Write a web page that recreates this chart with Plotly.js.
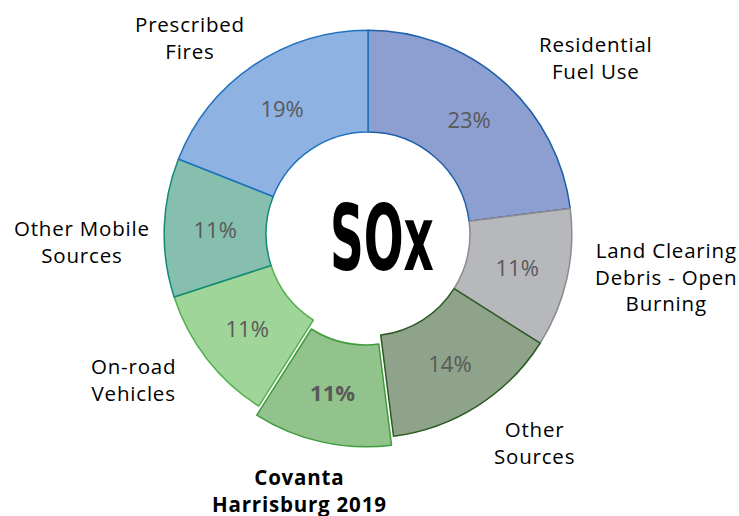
<!DOCTYPE html>
<html>
<head>
<meta charset="utf-8">
<script src="https://cdn.plot.ly/plotly-3.0.1.min.js"></script>
<style>
  html, body { margin: 0; padding: 0; background: #fff; }
  #plot { width: 739px; height: 516px; }
  .annotation-text { letter-spacing: 0.8px; }
</style>
</head>
<body>
<div id="plot"></div>
<script>
// SOx sources, percent share (clockwise from 12 o'clock)
var sources = ["Residential Fuel Use", "Land Clearing Debris - Open Burning", "Other Sources",
               "Covanta Harrisburg 2019", "On-road Vehicles", "Other Mobile Sources", "Prescribed Fires"];
var shares = [23, 11, 14, 11, 11, 11, 19];
var pulls = [0, 0, 0, 0.045, 0, 0, 0];
var labelText = ["Residential<br>Fuel Use", "Land Clearing<br>Debris - Open<br>Burning", "Other<br>Sources",
                 "<b>Covanta<br>Harrisburg 2019</b>", "On-road<br>Vehicles", "Other Mobile<br>Sources", "Prescribed<br>Fires"];

var fills = ["#8d9ed1", "#b7b8bc", "#8fa38b", "#93c38c", "#a0d59a", "#86bfae", "#8eb2e2"];
var edges = ["#1f5fa8", "#8a8b8e", "#2b5a22", "#3f9c3c", "#52b04e", "#138a78", "#1f72c0"];

var texts = shares.map(function (s, i) {
  return sources[i] === "Covanta Harrisburg 2019" ? "<b>" + s + "%</b>" : s + "%";
});

var trace1 = {
  type: "pie",
  labels: sources,
  values: shares,
  text: texts,
  textinfo: "text",
  textposition: "inside",
  insidetextorientation: "horizontal",
  textfont: { family: "Open Sans", size: 22, color: "#595959" },
  hole: 0.5,
  sort: false,
  direction: "clockwise",
  rotation: 0,
  pull: pulls,
  marker: { colors: fills, line: { color: edges, width: 1.5 } },
  domain: { x: [0.2097, 0.7862], y: [0.1337, 0.9593] },
  showlegend: false,
  hoverinfo: "label+value"
};

// outside category labels, placed by hand
var labelPos = [[596, 58], [666, 276], [534, 442], [299, 490], [133, 379], [82, 242], [190, 37]];
var annotations = labelText.map(function (t, i) {
  return {
    text: t, xref: "paper", yref: "paper",
    x: labelPos[i][0] / 739, y: 1 - labelPos[i][1] / 516,
    xanchor: "center", yanchor: "middle", showarrow: false,
    font: { family: "Open Sans", size: 20.5, color: "#000" }
  };
});
annotations.push({
  text: "<b>SOx</b>", xref: "paper", yref: "paper",
  x: 382 / 739, y: 1 - 239 / 516, xanchor: "center", yanchor: "middle", showarrow: false,
  font: { family: "DejaVu Sans", size: 90, color: "#000" }
});

var layout = {
  width: 739, height: 516,
  margin: { l: 0, r: 0, t: 0, b: 0 },
  paper_bgcolor: "#fff",
  annotations: annotations
};

Plotly.newPlot("plot", [trace1], layout, { staticPlot: true }).then(function () {
  // squeeze the centre title into a condensed shape
  document.querySelectorAll(".annotation-text").forEach(function (el) {
    if (el.textContent === "SOx") {
      el.style.letterSpacing = "0px";
      el.setAttribute("textLength", "104");
      el.setAttribute("lengthAdjust", "spacingAndGlyphs");
    }
  });
});
</script>
</body>
</html>
